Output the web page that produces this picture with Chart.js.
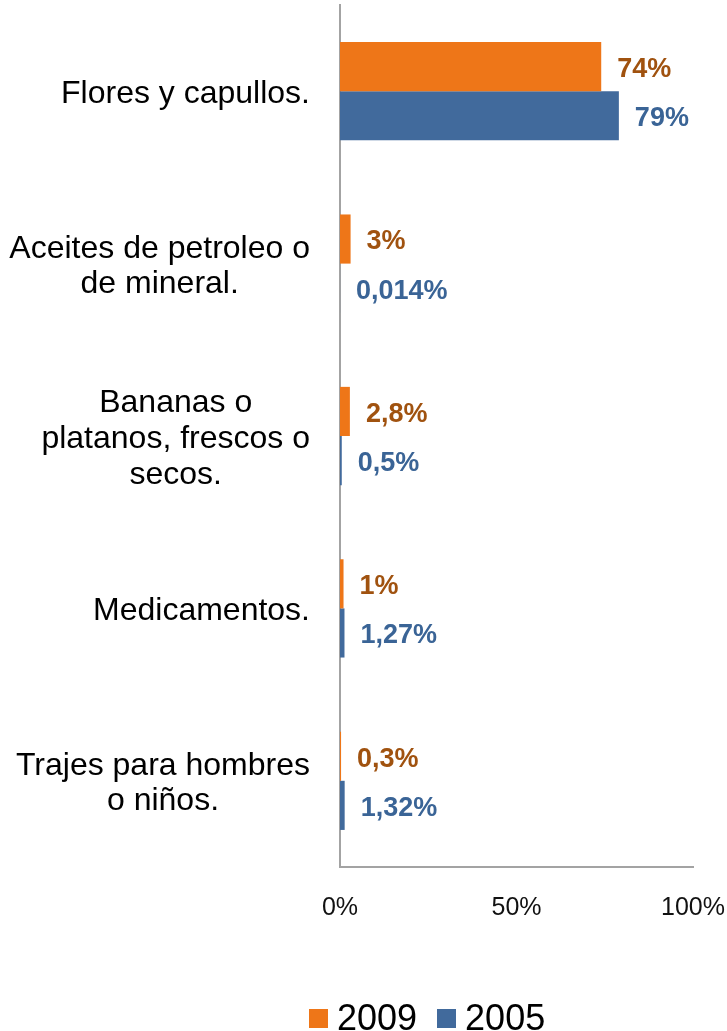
<!DOCTYPE html>
<html>
<head>
<meta charset="utf-8">
<script src="https://cdn.jsdelivr.net/npm/chart.js@4/dist/chart.umd.min.js"></script>
<style>
  body { margin: 0; background: #fff; }
  #wrap { position: relative; width: 727px; height: 1031px; }
  #legend { position: absolute; left: 309px; top: 997px; display: flex; align-items: center;
            font-family: "Liberation Sans", Arial, sans-serif; font-size: 36px; color: #000; }
  #legend span.box { display: inline-block; width: 19px; height: 19px; margin-right: 9px; }
  #legend span.item { display: flex; align-items: center; margin-right: 20px; }
</style>
</head>
<body>
<div id="wrap">
  <canvas id="myChart" width="727" height="1031"></canvas>
  <div id="legend"></div>
</div>
<script>
// categories (each entry = lines of the label)
var categories = [
    ['Flores y capullos.'],
    ['Aceites de petroleo o', 'de mineral.'],
    ['Bananas o', 'platanos, frescos o', 'secos.'],
    ['Medicamentos.'],
    ['Trajes para hombres', 'o niños.']
];
var values2009 = [74, 3, 2.8, 1, 0.3];
var values2005 = [79, 0.014, 0.5, 1.27, 1.32];
var labels2009 = ['74%', '3%', '2,8%', '1%', '0,3%'];
var labels2005 = ['79%', '0,014%', '0,5%', '1,27%', '1,32%'];
var xTicks = [0, 50, 100];

var orange = '#EE7618';
var blue = '#416A9C';
var font = '"Liberation Sans", Arial, sans-serif';

// y labels: centred lines, block right-aligned at x=310
var yLabels = {
    id: 'yLabels',
    afterDraw: function(chart) {
        var ctx = chart.ctx, y = chart.scales.y;
        ctx.save();
        ctx.font = '32px ' + font;
        ctx.fillStyle = '#000';
        ctx.textAlign = 'center';
        ctx.textBaseline = 'middle';
        var lh = 35.7;
        categories.forEach(function(lines, i) {
            var w = 0;
            lines.forEach(function(l) { w = Math.max(w, ctx.measureText(l).width); });
            var cx = 310 - w / 2;
            var cy = y.getPixelForTick(i);
            var y0 = cy - (lines.length - 1) / 2 * lh;
            lines.forEach(function(l, k) { ctx.fillText(l, cx, y0 + k * lh + 3); });
        });
        ctx.restore();
    }
};

// value labels next to each bar
var valueLabels = {
    id: 'valueLabels',
    afterDatasetsDraw: function(chart) {
        var ctx = chart.ctx;
        var texts = [labels2009, labels2005];
        var colors = ['#A0520F', '#3A6496'];
        ctx.save();
        ctx.font = 'bold 27px ' + font;
        ctx.textAlign = 'left';
        ctx.textBaseline = 'middle';
        chart.data.datasets.forEach(function(ds, d) {
            chart.getDatasetMeta(d).data.forEach(function(bar, i) {
                ctx.fillStyle = colors[d];
                ctx.fillText(texts[d][i], bar.x + 16, bar.y + 3);
            });
        });
        ctx.restore();
    }
};

var ctx = document.getElementById('myChart').getContext('2d');
var chart = new Chart(ctx, {
    type: 'bar',
    data: {
        labels: categories,
        datasets: [
            { label: '2009', backgroundColor: orange, data: values2009,
              categoryPercentage: 0.57, barPercentage: 1 },
            { label: '2005', backgroundColor: blue, data: values2005,
              categoryPercentage: 0.57, barPercentage: 1 }
        ]
    },
    options: {
        indexAxis: 'y',
        responsive: false,
        animation: false,
        layout: { padding: { left: 340, right: 34, top: 5, bottom: 82 } },
        plugins: { legend: { display: false }, tooltip: { enabled: false } },
        scales: {
            x: {
                min: 0, max: 100,
                afterBuildTicks: function(s) { s.ticks = xTicks.map(function(v) { return { value: v }; }); },
                afterFit: function(s) { s.paddingLeft = 0; s.paddingRight = 0; },
                grid: { display: false, drawTicks: false },
                border: { display: true, color: '#A3A3A3', width: 2 },
                ticks: {
                    padding: 26, maxRotation: 0, color: '#111',
                    font: { family: font, size: 25 },
                    callback: function(v) { return v + '%'; }
                }
            },
            y: {
                grid: { display: false, drawTicks: false },
                border: { display: true, color: '#A3A3A3', width: 2 },
                ticks: { display: false }
            }
        }
    },
    plugins: [yLabels, valueLabels]
});

// legend
var leg = document.getElementById('legend');
chart.data.datasets.forEach(function(ds) {
    var item = document.createElement('span');
    item.className = 'item';
    var box = document.createElement('span');
    box.className = 'box';
    box.style.background = ds.backgroundColor;
    item.appendChild(box);
    item.appendChild(document.createTextNode(ds.label));
    leg.appendChild(item);
});
</script>
</body>
</html>
